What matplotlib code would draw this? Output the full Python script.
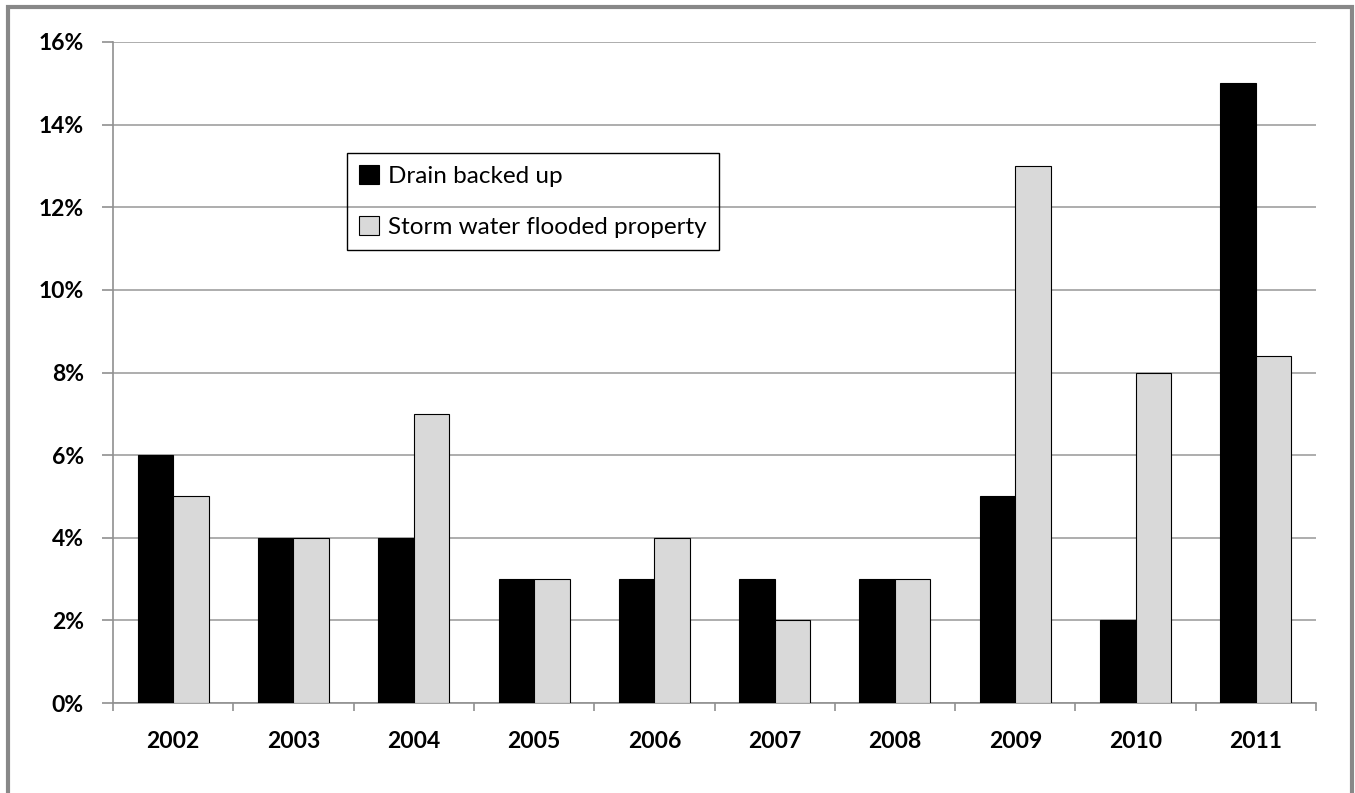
import numpy as np
import matplotlib
matplotlib.use('Agg')
import matplotlib.pyplot as plt
from matplotlib.patches import Rectangle
from matplotlib.ticker import FuncFormatter

years = ["2002", "2003", "2004", "2005", "2006", "2007", "2008", "2009", "2010", "2011"]
drain_backed_up = [6, 4, 4, 3, 3, 3, 3, 5, 2, 15]
storm_flooded = [5, 4, 7, 3, 4, 2, 3, 13, 8, 8.4]

plt.rcParams['font.family'] = ['Lato', 'DejaVu Sans']

fig = plt.figure(figsize=(13.55, 7.93), dpi=100)
ax = fig.add_axes([113 / 1355, 90 / 793, 1203 / 1355, 661 / 793])

x = np.arange(len(years))
w = 0.295
ax.bar(x - w / 2, drain_backed_up, w, color="black", edgecolor="black", linewidth=0.8,
       label="Drain backed up", zorder=3)
ax.bar(x + w / 2, storm_flooded, w, color="#d9d9d9", edgecolor="black", linewidth=0.8,
       label="Storm water flooded property", zorder=3)

ax.set_xlim(-0.5, len(years) - 0.5)
ax.set_ylim(0, 16)
ax.set_yticks(np.arange(0, 17, 2))
ax.yaxis.set_major_formatter(FuncFormatter(lambda v, p: f"{v:.0f}%"))
ax.grid(axis="y", color="#a0a0a0", linewidth=1.2, zorder=0)

ax.set_xticks(x)
ax.set_xticklabels(years)
ax.set_xticks(np.arange(-0.5, len(years), 1), minor=True)
ax.tick_params(axis="x", which="major", length=0, pad=20, labelsize=16.5)
ax.tick_params(axis="x", which="minor", length=6, color="#909090", width=1.2)
ax.tick_params(axis="y", length=8, color="#909090", width=1.2, pad=13, labelsize=16.5)
for lab in ax.get_xticklabels() + ax.get_yticklabels():
    lab.set_fontweight("bold")

for side in ["top", "right"]:
    ax.spines[side].set_visible(False)
for side in ["left", "bottom"]:
    ax.spines[side].set_color("#909090")
    ax.spines[side].set_linewidth(1.2)

leg = ax.legend(loc="upper left", bbox_to_anchor=(347 / 1355, 1 - 153 / 793),
                bbox_transform=fig.transFigure, borderaxespad=0, fontsize=17.5,
                handlelength=0.8, handleheight=0.8, handletextpad=0.4,
                labelspacing=1.2, borderpad=0.5, fancybox=False, framealpha=1,
                edgecolor="black")
leg.get_frame().set_linewidth(1.0)
leg.get_frame().set_facecolor("none")

fig.patches.append(Rectangle((8 / 1355, -0.01), 1344 / 1355, 1 - 7 / 793 + 0.01,
                             transform=fig.transFigure, fill=False,
                             edgecolor="#888888", linewidth=3))

fig.savefig("out.png", dpi=100)
